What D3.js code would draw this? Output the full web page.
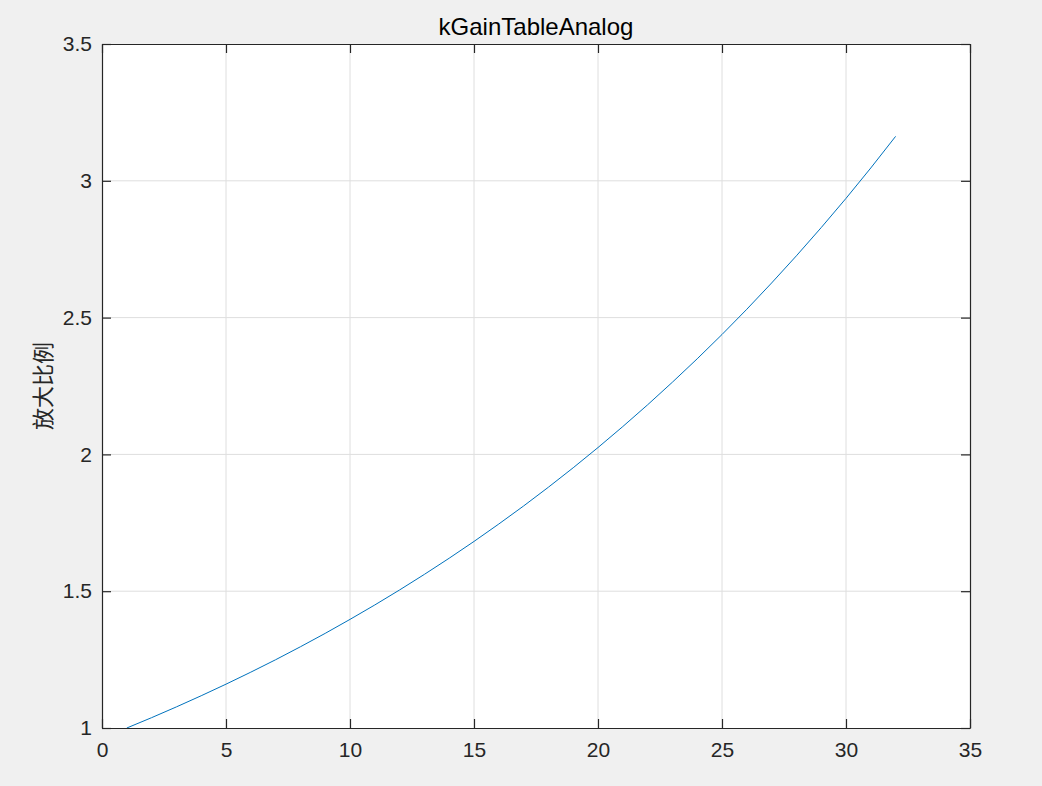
<!DOCTYPE html>
<html><head><meta charset="utf-8">
<script src="https://cdn.jsdelivr.net/npm/d3@7"></script>
<style>body{margin:0;background:#f0f0f0;}svg{display:block;}</style>
</head><body>
<svg id="c" width="1042" height="786"></svg>
<script>
const indices = d3.range(1, 33);
const gains = [1.0000,1.0378,1.0771,1.1179,1.1602,1.2041,1.2495,1.2969,1.3459,1.3970,1.4497,
  1.5046,1.5615,1.6206,1.6819,1.7456,1.8115,1.8801,1.9512,2.0251,2.1018,2.1812,
  2.2639,2.3494,2.4382,2.5305,2.6265,2.7258,2.8289,2.9358,3.0469,3.1624];
const xTicks = [0,5,10,15,20,25,30,35];
const yTicks = [1,1.5,2,2.5,3,3.5];
const yTickLabels = ["1","1.5","2","2.5","3","3.5"];
const title = "kGainTableAnalog";
const yLabel = "放大比例";

const svg = d3.select("#c");
const L=102,R=970,T=44,B=728;
const x = d3.scaleLinear().domain([0,35]).range([L,R]);
const y = d3.scaleLinear().domain([1,3.5]).range([B,T]);
const font = "'Helvetica Neue', Helvetica, 'Liberation Sans', Arial, sans-serif";

svg.append("rect").attr("x",L).attr("y",T).attr("width",R-L).attr("height",B-T).attr("fill","#fff");
// grid
svg.append("g").selectAll("line").data(xTicks.slice(1,-1)).join("line")
  .attr("x1",d=>x(d)).attr("x2",d=>x(d)).attr("y1",T).attr("y2",B)
  .attr("stroke","#dedede").attr("stroke-width",1);
svg.append("g").selectAll("line").data(yTicks.slice(1,-1)).join("line")
  .attr("x1",L).attr("x2",R).attr("y1",d=>y(d)).attr("y2",d=>y(d))
  .attr("stroke","#dedede").attr("stroke-width",1);

// line
svg.append("path").datum(gains)
  .attr("d", d3.line().x((d,i)=>x(indices[i])).y(d=>y(d)))
  .attr("fill","none").attr("stroke","#0072bd").attr("stroke-width",1);

// axes (ticks inward)
const ax = d3.axisBottom(x).tickValues(xTicks).tickSizeInner(-9).tickSizeOuter(0).tickPadding(14);
const gx = svg.append("g").attr("transform",`translate(0,${B})`).call(ax);
const axT = d3.axisTop(x).tickValues(xTicks).tickSizeInner(-9).tickSizeOuter(0).tickFormat("");
const gxt = svg.append("g").attr("transform",`translate(0,${T})`).call(axT);
const ay = d3.axisLeft(y).tickValues(yTicks).tickFormat((d,i)=>yTickLabels[i]).tickSizeInner(-9).tickSizeOuter(0).tickPadding(10);
const gy = svg.append("g").attr("transform",`translate(${L},0)`).call(ay);
const ayr = d3.axisRight(y).tickValues(yTicks).tickFormat("").tickSizeInner(-9).tickSizeOuter(0);
const gyr = svg.append("g").attr("transform",`translate(${R},0)`).call(ayr);
[gx,gxt,gy,gyr].forEach(g=>{
  g.selectAll("path,line").attr("stroke","#262626").attr("stroke-width",1.2);
  g.selectAll("text").attr("fill","#262626").style("font-family",font).style("font-size","21px");
});
gx.selectAll("text").attr("dy","0.71em");

svg.append("text").attr("x",(L+R)/2).attr("y",35).attr("text-anchor","middle")
  .style("font-family",font).style("font-size","24px").attr("fill","#000").text(title);
svg.append("text").attr("transform",`translate(51,${(T+B)/2}) rotate(-90)`).attr("text-anchor","middle")
  .style("font-family","'Noto Sans CJK SC', sans-serif").style("font-size","22px").attr("fill","#262626").text(yLabel);
</script>
</body></html>
